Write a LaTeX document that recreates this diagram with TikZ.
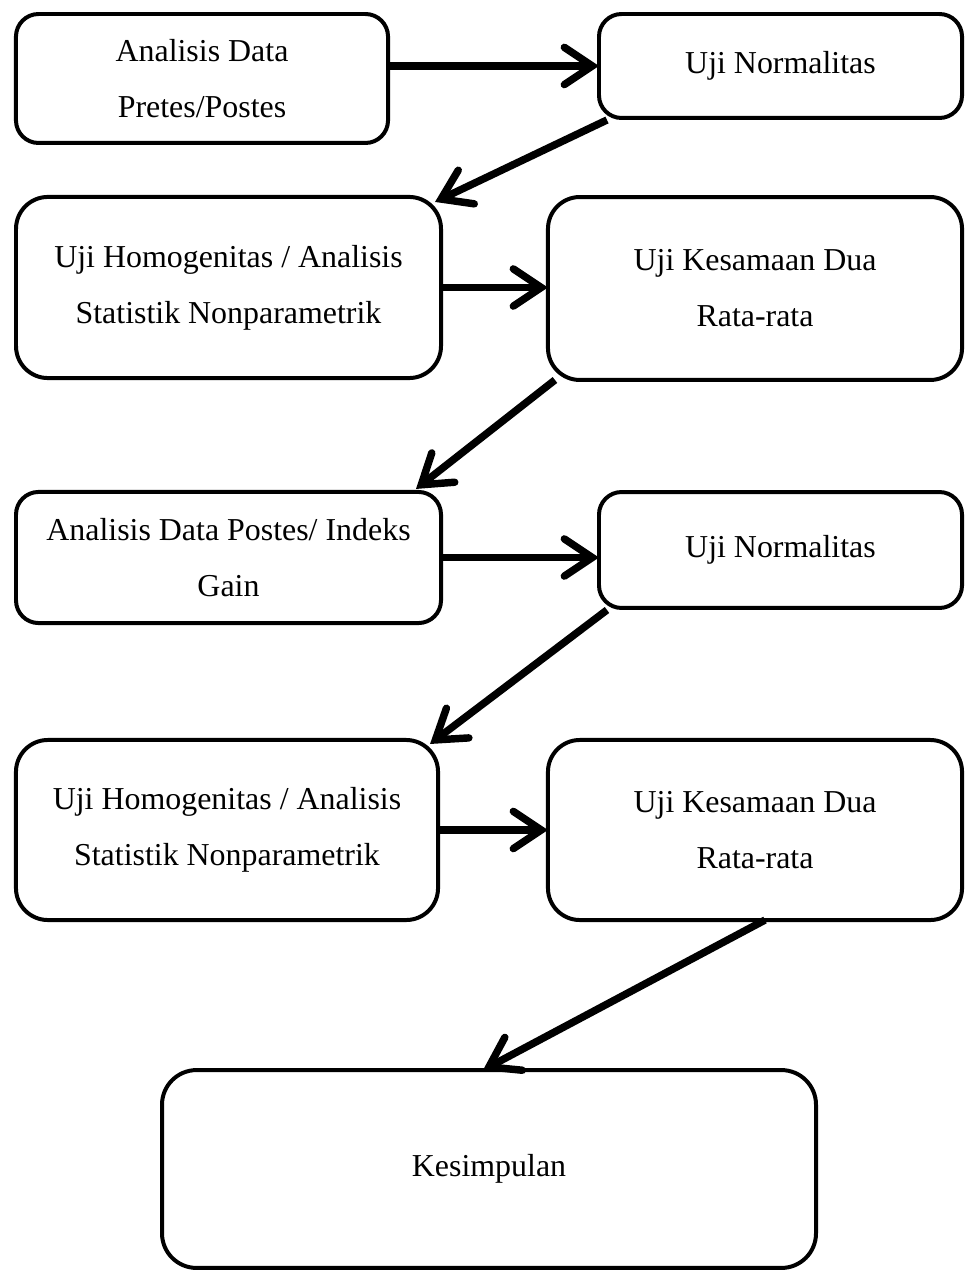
\documentclass[tikz,border=0pt]{standalone}
\usepackage{fontspec}
\setmainfont{Liberation Serif}
\usepackage{tikz}
\usetikzlibrary{arrows.meta,calc,positioning}

\begin{document}
\begin{tikzpicture}[x=0.376pt,y=-0.376pt,>={Straight Barb[length=10.5pt,width=14pt,line cap=round]},
    box/.style={draw,line width=1.5pt,align=center,inner sep=0pt,outer sep=0pt,font=\fontsize{12}{21}\selectfont},
    flow/.style={->,line width=2.8pt}]
      \useasboundingbox (0,0) rectangle (966,1272);
      \node[box,rounded corners=8.5pt,minimum width=139.9pt,minimum height=48.5pt] (AD) at (202,78.5) {Analisis Data\\Pretes/Postes};
      \node[box,rounded corners=8.5pt,minimum width=136.5pt,minimum height=39.1pt] (UN) at (780.5,66) {Uji Normalitas};
      \node[box,rounded corners=12pt,minimum width=159.8pt,minimum height=68.1pt] (UH) at (228.5,287.5) {Uji Homogenitas / Analisis\\Statistik Nonparametrik};
      \node[box,rounded corners=12pt,minimum width=155.7pt,minimum height=68.8pt] (UK) at (755,288.5) {Uji Kesamaan Dua\\Rata-rata};
      \node[box,rounded corners=8.5pt,minimum width=159.8pt,minimum height=49.3pt] (AG) at (228.5,557.5) {Analisis Data Postes/ Indeks\\Gain};
      \node[box,rounded corners=8.5pt,minimum width=136.5pt,minimum height=43.6pt] (UN2) at (780.5,550) {Uji Normalitas};
      \node[box,rounded corners=12pt,minimum width=158.7pt,minimum height=67.7pt] (UH2) at (227,830) {Uji Homogenitas / Analisis\\Statistik Nonparametrik};
      \node[box,rounded corners=12pt,minimum width=155.7pt,minimum height=67.7pt] (UK2) at (755,830) {Uji Kesamaan Dua\\Rata-rata};
      \node[box,rounded corners=13pt,minimum width=245.9pt,minimum height=74.4pt] (K) at (489,1169) {Kesimpulan};
      \path[flow] (AD.east |- UN.west) edge (UN.west)
      ($(UN.south west)+(8,2)$) edge ($(UH.north east)+(-6,5)$)
      (UH.east) edge (UH.east -| UK.west)
      ($(UK.south west)+(7,0)$) edge ($(AG.north east)+(-25,-3)$)
      (AG.east) edge (AG.east -| UN2.west)
      ($(UN2.south west)+(8,2)$) edge ($(UH2.north east)+(-8,4)$)
      (UH2.east) edge (UK2.west)
      ($(UK2.south)+(10,0)$) edge ($(K.north)+(-6,0)$);
    \end{tikzpicture}
\end{document}
